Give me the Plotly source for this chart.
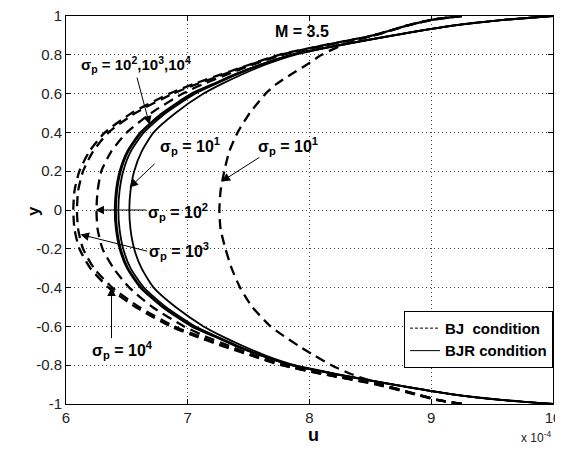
import plotly.graph_objects as go

# y positions across the channel (shared by all curves)
Y = [-1.0, -0.98, -0.95, -0.9, -0.85, -0.8, -0.75, -0.7, -0.65, -0.6, -0.5, -0.4, -0.3, -0.2, -0.1,
     0.0, 0.1, 0.2, 0.3, 0.4, 0.5, 0.6, 0.65, 0.7, 0.75, 0.8, 0.85, 0.9, 0.95, 0.98, 1.0]

# u values (x 10^-4), BJ condition (dashed)
BJ_s1 = [9.25, 9.06, 8.88, 8.60, 8.36, 8.18, 8.04, 7.91, 7.79, 7.68, 7.53, 7.43, 7.36, 7.31, 7.27,
         7.26, 7.27, 7.30, 7.34, 7.41, 7.51, 7.64, 7.73, 7.85, 7.98, 8.10, 8.27, 8.52, 8.80, 9.00, 9.25]
BJ_s2 = [9.25, 9.06, 8.88, 8.57, 8.16, 7.80, 7.55, 7.34, 7.14, 6.97, 6.71, 6.52, 6.39, 6.30, 6.26,
         6.25, 6.26, 6.29, 6.37, 6.50, 6.70, 6.96, 7.13, 7.33, 7.54, 7.78, 8.14, 8.53, 8.80, 9.00, 9.25]
BJ_s3 = [9.25, 9.06, 8.88, 8.57, 8.15, 7.78, 7.53, 7.30, 7.09, 6.89, 6.60, 6.38, 6.23, 6.14, 6.10,
         6.09, 6.10, 6.14, 6.22, 6.35, 6.57, 6.88, 7.08, 7.30, 7.52, 7.76, 8.13, 8.53, 8.80, 9.00, 9.25]
BJ_s4 = [9.25, 9.05, 8.86, 8.55, 8.14, 7.77, 7.52, 7.28, 7.06, 6.86, 6.57, 6.35, 6.20, 6.11, 6.07,
         6.06, 6.07, 6.11, 6.19, 6.32, 6.54, 6.85, 7.05, 7.28, 7.51, 7.75, 8.12, 8.52, 8.80, 9.00, 9.25]

# u values (x 10^-4), BJR condition (solid)
BJR_s1 = [10.0, 9.60, 9.18, 8.70, 8.26, 7.88, 7.64, 7.45, 7.28, 7.13, 6.90, 6.72, 6.62, 6.56, 6.53,
          6.52, 6.53, 6.56, 6.62, 6.72, 6.90, 7.13, 7.28, 7.45, 7.64, 7.88, 8.26, 8.70, 9.18, 9.60, 10.0]
BJR_s2 = [10.0, 9.60, 9.18, 8.69, 8.25, 7.86, 7.61, 7.41, 7.23, 7.06, 6.82, 6.64, 6.53, 6.47, 6.44,
          6.43, 6.44, 6.47, 6.53, 6.64, 6.82, 7.06, 7.23, 7.41, 7.61, 7.86, 8.25, 8.69, 9.18, 9.60, 10.0]
BJR_s3 = [10.0, 9.59, 9.17, 8.69, 8.24, 7.85, 7.60, 7.40, 7.22, 7.04, 6.80, 6.62, 6.51, 6.45, 6.42,
          6.41, 6.42, 6.45, 6.51, 6.62, 6.80, 7.04, 7.22, 7.40, 7.60, 7.85, 8.24, 8.69, 9.17, 9.59, 10.0]
BJR_s4 = [10.0, 9.59, 9.17, 8.68, 8.24, 7.85, 7.60, 7.39, 7.21, 7.03, 6.79, 6.61, 6.50, 6.44, 6.41,
          6.40, 6.41, 6.44, 6.50, 6.61, 6.79, 7.03, 7.21, 7.39, 7.60, 7.85, 8.24, 8.68, 9.17, 9.59, 10.0]

X_TICKS = [6, 7, 8, 9, 10]
Y_TICKS = [-1, -0.8, -0.6, -0.4, -0.2, 0, 0.2, 0.4, 0.6, 0.8, 1]
Y_TICK_TEXT = ["-1", "-0.8", "-0.6", "-0.4", "-0.2", "0", "0.2", "0.4", "0.6", "0.8", "1"]

FONT = "Liberation Sans, Arial, sans-serif"

fig = go.Figure()

for u in [BJ_s1, BJ_s2, BJ_s3, BJ_s4]:
    fig.add_trace(go.Scatter(x=u, y=Y, mode="lines", showlegend=False, hoverinfo="skip",
                             line=dict(color="black", width=2.3, dash="10px,6px",
                                       shape="spline", smoothing=0.6)))
for u in [BJR_s1, BJR_s2, BJR_s3, BJR_s4]:
    fig.add_trace(go.Scatter(x=u, y=Y, mode="lines", showlegend=False, hoverinfo="skip",
                             line=dict(color="black", width=1.8,
                                       shape="spline", smoothing=0.6)))

# legend entries
fig.add_trace(go.Scatter(x=[None], y=[None], mode="lines", name="BJ\u00a0\u00a0condition",
                         line=dict(color="black", width=1, dash="3px,2px")))
fig.add_trace(go.Scatter(x=[None], y=[None], mode="lines", name="BJR condition",
                         line=dict(color="black", width=1)))

lab_font = dict(family=FONT, size=16, color="black", weight="bold")

# first label is left-anchored, the rest centred
fig.add_annotation(x=6.11, y=0.75, xanchor="left", yanchor="middle", showarrow=False,
                   text="σ<sub>p</sub> = 10<sup>2</sup>,10<sup>3</sup>,10<sup>4</sup>",
                   font=dict(family=FONT, size=15, color="black", weight="bold"))
labels = [
    ("M = 3.5", 7.94, 0.92),
    ("σ<sub>p</sub> = 10<sup>1</sup>", 7.02, 0.33),
    ("σ<sub>p</sub> = 10<sup>1</sup>", 7.82, 0.33),
    ("σ<sub>p</sub> = 10<sup>2</sup>", 6.92, -0.01),
    ("σ<sub>p</sub> = 10<sup>3</sup>", 6.93, -0.21),
    ("σ<sub>p</sub> = 10<sup>4</sup>", 6.46, -0.72),
]
for t, x, y in labels:
    fig.add_annotation(x=x, y=y, text=t, showarrow=False, font=lab_font,
                       xanchor="center", yanchor="middle")

arrows = [
    (6.58, 0.69, 6.686, 0.441),
    (6.74, 0.245, 6.522, 0.116),
    (7.60, 0.276, 7.278, 0.147),
    (6.67, 0.0, 6.242, 0.0),
    (6.678, -0.214, 6.119, -0.126),
    (6.374, -0.668, 6.374, -0.40),
]
for tx, ty, hx, hy in arrows:
    fig.add_annotation(x=hx, y=hy, ax=tx, ay=ty, axref="x", ayref="y", text="",
                       showarrow=True, arrowhead=2, arrowsize=1.7, arrowwidth=1,
                       arrowcolor="black", standoff=0, startstandoff=0)

# axis titles and exponent as text
fig.add_annotation(xref="paper", yref="paper", x=0.508, y=-0.080, text="u", showarrow=False,
                   xanchor="center", yanchor="middle",
                   font=dict(family=FONT, size=18, color="black", weight="bold"))
fig.add_annotation(xref="paper", yref="paper", x=-0.068, y=0.497, text="y", showarrow=False,
                   xanchor="center", yanchor="middle", textangle=-90,
                   font=dict(family=FONT, size=17, color="black", weight="bold"))
fig.add_annotation(xref="paper", yref="paper", x=1.0, y=-0.085, text="x 10<sup>-4</sup>",
                   showarrow=False, xanchor="right", yanchor="middle",
                   font=dict(family=FONT, size=12, color="#222"))

axis_common = dict(showline=True, linecolor="black", linewidth=1, mirror="ticks",
                   ticks="inside", ticklen=5, tickcolor="black", automargin=False,
                   ticklabeloverflow="allow",
                   showgrid=True, gridcolor="#444", gridwidth=1, griddash="1px,3px",
                   zeroline=False, tickfont=dict(family=FONT, size=15, color="#222"))

fig.update_xaxes(range=[6, 10], tickvals=X_TICKS, ticktext=[str(v) for v in X_TICKS], **axis_common)
fig.update_yaxes(range=[-1, 1], tickvals=Y_TICKS, ticktext=Y_TICK_TEXT, **axis_common)

# page body adds an 8px offset, so the figure is sized to land the plot box on the reference's
fig.update_layout(
    width=555, height=444,
    margin=dict(l=58, r=10, t=8, b=48, autoexpand=False),
    paper_bgcolor="white", plot_bgcolor="white",
    showlegend=True,
    legend=dict(x=1, y=0.24, xanchor="right", yanchor="top",
                bgcolor="white", bordercolor="black", borderwidth=1,
                font=dict(family=FONT, size=15, color="black", weight="bold"),
                itemwidth=30, tracegroupgap=0),
)

fig.write_html("out.html")
